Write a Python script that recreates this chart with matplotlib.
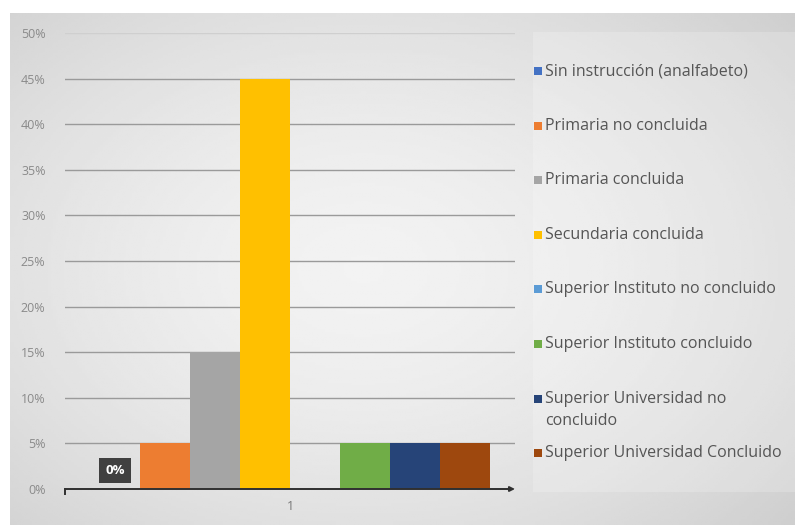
import matplotlib.pyplot as plt
import matplotlib.patches as patches
import numpy as np

plt.rcParams['font.family'] = ['Open Sans', 'DejaVu Sans']

# data
series = ["Sin instrucción (analfabeto)", "Primaria no concluida", "Primaria concluida",
          "Secundaria concluida", "Superior Instituto no concluido",
          "Superior Instituto concluido", "Superior Universidad no\nconcluido",
          "Superior Universidad Concluido"]
values = [0, 5, 15, 45, 0, 5, 5, 5]
colors = ["#4472C4", "#ED7D31", "#A5A5A5", "#FFC000", "#5B9BD5", "#70AD47", "#264478", "#9E480E"]
category = "1"
yticks = [0, 5, 10, 15, 20, 25, 30, 35, 40, 45, 50]

W, H = 795, 525
fig = plt.figure(figsize=(W / 100, H / 100), dpi=100)
fig.patch.set_facecolor("white")

# grey gradient background of the chart area
bg = fig.add_axes([10 / W, 0, (W - 10) / W, (H - 13) / H])
bg.set_axis_off()
yy, xx = np.mgrid[0:1:200j, 0:1:300j]
d = np.sqrt(((xx - 0.45) / 0.75) ** 2 + ((yy - 0.5) / 0.8) ** 2)
grad = 0.95 - 0.15 * d ** 1.6
bg.imshow(np.clip(grad, 0.76, 1), cmap="gray", vmin=0, vmax=1, aspect="auto",
          extent=[0, 1, 0, 1])
bg.set_xlim(0, 1)
bg.set_ylim(0, 1)

# legend panel (slightly lighter)
fig.patches.append(patches.Rectangle((533 / W, (H - 492) / H), (W - 533) / W, (492 - 32) / H,
                                     transform=fig.transFigure, facecolor="white",
                                     alpha=0.2, edgecolor="none", zorder=0.5))

ax = fig.add_axes([65 / W, (H - 489) / H, 450 / W, 456 / H])
ax.set_facecolor("none")

w = 50 / 450
n = len(values)
xs = [1 + (i - (n - 1) / 2) * w for i in range(n)]
ax.bar(xs, values, width=w, color=colors, zorder=3)

ax.set_xlim(0.5, 1.5)
ax.set_ylim(0, 50)
ax.set_yticks(yticks)
ax.set_yticklabels([f"{v}%" for v in yticks], fontsize=9, color="#8a8a8a")
ax.set_xticks([1])
ax.set_xticklabels([category], fontsize=9, color="#7a7a7a")
ax.tick_params(axis="y", length=0, pad=14)
ax.tick_params(axis="x", length=0, pad=8)
for s in ax.spines.values():
    s.set_visible(False)
ax.yaxis.grid(True, color="#9a9a9a", linewidth=1.0)
ax.set_axisbelow(True)
ax.get_ygridlines()[-1].set_color("#cfcfcf")

# x axis with arrow
ax.annotate("", xy=(1.0, 0), xytext=(0, 0), xycoords="axes fraction",
            arrowprops=dict(arrowstyle="-|>", color="#303030", lw=1.4,
                            mutation_scale=7, shrinkA=0, shrinkB=0), zorder=4)
ax.plot([0, 0], [0, -0.6], color="#303030", lw=1.4, transform=ax.get_yaxis_transform(),
        clip_on=False)

# data label for the zero bar
ax.text(xs[0], 2.0, f"{values[0]}%", ha="center", va="center", fontsize=9.5,
        fontweight="bold", color="white", zorder=5,
        bbox=dict(boxstyle="square,pad=0.45", facecolor="#404040", edgecolor="none"))

# legend drawn at Excel-like slots
y0, step = 71, 54.6
for i, (lab, c) in enumerate(zip(series, colors)):
    y = y0 + i * step
    fig.patches.append(patches.Rectangle((534 / W, (H - y - 4) / H), 8 / W, 8 / H,
                                         transform=fig.transFigure, facecolor=c,
                                         edgecolor="none", zorder=3))
    fig.text(545 / W, (H - y) / H, lab.split("\n")[0], fontsize=11.5, color="#555555",
             va="center", ha="left")
    if "\n" in lab:
        fig.text(545 / W, (H - y - 22) / H, lab.split("\n")[1], fontsize=11.5,
                 color="#555555", va="center", ha="left")

fig.savefig("out.png", dpi=100)
